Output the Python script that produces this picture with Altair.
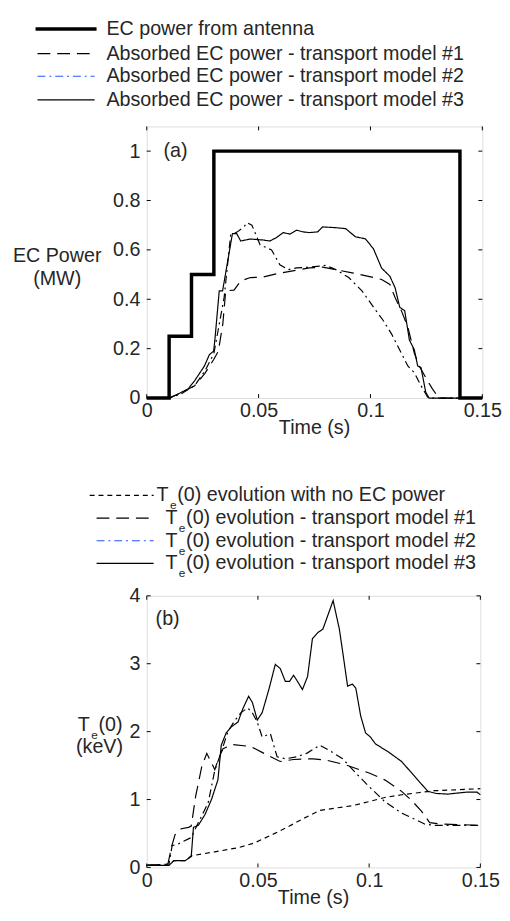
import altair as alt
import pandas as pd

# ---------------- data ----------------
time_ticks = [0, 0.05, 0.1, 0.15]
power_ticks = [0, 0.2, 0.4, 0.6, 0.8, 1.0]
temp_ticks = [0, 1, 2, 3, 4]

antenna_t = [0, 0.01, 0.02, 0.03, 0.14, 0.15]
antenna_p = [0, 0.25, 0.5, 1.0, 0, 0]

abs1_t = [0.0, 0.010, 0.015, 0.0214, 0.026, 0.030, 0.032, 0.034, 0.0353, 0.039, 0.042, 0.0463, 0.052, 0.058,
          0.064, 0.0727, 0.0786, 0.0845, 0.0918, 0.0991, 0.105, 0.1087, 0.111, 0.1138, 0.1167, 0.1196, 0.1218,
          0.1255, 0.1277, 0.1306, 0.15]
abs1_p = [0, 0, 0.02, 0.05, 0.1, 0.157, 0.19, 0.30, 0.434, 0.437, 0.474, 0.488, 0.49, 0.503, 0.513, 0.527,
          0.53, 0.52, 0.507, 0.493, 0.48, 0.46, 0.407, 0.354, 0.288, 0.182, 0.13, 0.07, 0.037, 0, 0]

abs2_t = [0.0, 0.010, 0.015, 0.0214, 0.026, 0.030, 0.0346, 0.0375, 0.0405, 0.0434, 0.0449, 0.047, 0.0507,
          0.0558, 0.0595, 0.0632, 0.067, 0.0727, 0.080, 0.0845, 0.0903, 0.0962, 0.102, 0.1057, 0.1094, 0.1138,
          0.1167, 0.1196, 0.1226, 0.1255, 0.127, 0.15]
abs2_p = [0, 0, 0.015, 0.05, 0.11, 0.18, 0.408, 0.66, 0.673, 0.693, 0.71, 0.70, 0.62, 0.60, 0.54, 0.52, 0.527,
          0.53, 0.537, 0.52, 0.488, 0.434, 0.36, 0.314, 0.26, 0.182, 0.13, 0.103, 0.05, 0.004, 0, 0]

abs3_t = [0.0, 0.010, 0.0126, 0.0185, 0.0214, 0.0258, 0.028, 0.0299, 0.0305, 0.0324, 0.0339, 0.0383, 0.0402,
          0.042, 0.0463, 0.052, 0.055, 0.058, 0.061, 0.064, 0.067, 0.0698, 0.0727, 0.0764, 0.0786, 0.0845,
          0.0889, 0.0933, 0.0977, 0.1013, 0.105, 0.1087, 0.111, 0.1131, 0.1153, 0.1174, 0.1196, 0.1211, 0.1226,
          0.1247, 0.1262, 0.15]
abs3_p = [0, 0, 0.01, 0.037, 0.07, 0.13, 0.176, 0.19, 0.24, 0.434, 0.434, 0.666, 0.666, 0.636, 0.644, 0.64,
          0.636, 0.65, 0.67, 0.664, 0.68, 0.673, 0.67, 0.673, 0.693, 0.69, 0.686, 0.653, 0.645, 0.605, 0.526,
          0.493, 0.447, 0.367, 0.354, 0.235, 0.196, 0.13, 0.123, 0.024, 0, 0]

noec_t = [0.0, 0.010, 0.0122, 0.0173, 0.020, 0.0306, 0.041, 0.0483, 0.0556, 0.063, 0.0704, 0.0778, 0.0851,
          0.0925, 0.100, 0.107, 0.1146, 0.122, 0.1293, 0.1367, 0.15]
noec_te = [0.03, 0.03, 0.10, 0.10, 0.17, 0.23, 0.29, 0.36, 0.47, 0.59, 0.72, 0.84, 0.875, 0.91, 0.97, 1.03,
           1.07, 1.10, 1.13, 1.14, 1.16]

te1_t = [0.0, 0.0095, 0.0113, 0.0127, 0.0155, 0.0188, 0.020, 0.022, 0.0247, 0.027, 0.0306, 0.032, 0.0343,
         0.0387, 0.0468, 0.0527, 0.060, 0.066, 0.0748, 0.0807, 0.0896, 0.100, 0.107, 0.1146, 0.119, 0.1235,
         0.1272, 0.1323, 0.15]
te1_v = [0.03, 0.05, 0.32, 0.48, 0.57, 0.59, 0.61, 1.05, 1.48, 1.68, 1.44, 1.58, 1.75, 1.81, 1.78, 1.68, 1.56,
         1.59, 1.60, 1.58, 1.51, 1.39, 1.29, 1.12, 0.99, 0.83, 0.66, 0.64, 0.62]

te2_t = [0.0, 0.010, 0.0114, 0.0144, 0.020, 0.0232, 0.0276, 0.0306, 0.0335, 0.0365, 0.0395, 0.0424, 0.0454,
         0.0476, 0.0497, 0.0519, 0.0556, 0.0586, 0.0623, 0.0674, 0.0719, 0.0778, 0.0822, 0.0881, 0.094, 0.100,
         0.107, 0.1146, 0.1205, 0.1249, 0.1293, 0.15]
te2_v = [0.03, 0.05, 0.32, 0.35, 0.44, 0.66, 0.95, 1.43, 1.70, 2.0, 2.16, 2.28, 2.35, 2.27, 2.14, 1.92, 1.97,
         1.63, 1.60, 1.63, 1.68, 1.80, 1.72, 1.60, 1.39, 1.19, 0.97, 0.80, 0.71, 0.64, 0.62, 0.62]

te3_t = [0.0, 0.010, 0.0122, 0.0173, 0.020, 0.021, 0.0232, 0.0262, 0.0291, 0.032, 0.0335, 0.0357, 0.038, 0.041,
         0.0431, 0.0458, 0.0475, 0.0497, 0.0519, 0.0549, 0.0578, 0.060, 0.0623, 0.0642, 0.066, 0.0674, 0.070,
         0.0723, 0.0745, 0.077, 0.0792, 0.0838, 0.0866, 0.0883, 0.0903, 0.0925, 0.094, 0.0962, 0.0984, 0.1006,
         0.1028, 0.1087, 0.1146, 0.1205, 0.1264, 0.1301, 0.1353, 0.1441, 0.1485, 0.15]
te3_v = [0.03, 0.03, 0.10, 0.10, 0.16, 0.59, 0.62, 0.78, 1.0, 1.29, 1.8, 1.98, 2.07, 2.14, 2.33, 2.52, 2.43,
         2.17, 2.28, 2.62, 2.99, 2.93, 2.74, 2.74, 2.83, 2.76, 2.62, 2.81, 3.37, 3.46, 3.51, 3.93, 3.51, 3.13,
         2.67, 2.70, 2.64, 2.23, 1.98, 1.92, 1.82, 1.70, 1.56, 1.34, 1.12, 1.09, 1.08, 1.11, 1.11, 1.07]

legend_a_series = ["antenna", "m1", "m2", "m3"]
legend_a_labels = ["EC power from antenna",
                   "Absorbed EC power - transport model #1",
                   "Absorbed EC power - transport model #2",
                   "Absorbed EC power - transport model #3"]
legend_b_series = ["noec", "m1", "m2", "m3"]
legend_b_labels = ["(0) evolution with no EC power",
                   "(0) evolution - transport model #1",
                   "(0) evolution - transport model #2",
                   "(0) evolution - transport model #3"]

# ---------------- style / layout ----------------
FONT = "Liberation Sans"
TXT = "#262626"
FS = 20
W_A, W_B, H = 341, 339, 276

dash_scale = alt.Scale(domain=["antenna", "m1", "m2", "m3", "noec"],
                       range=[[1, 0], [13, 7], [8, 4, 2, 4], [1, 0], [5, 4]])
legend_colors = {"antenna": "black", "m1": "black", "m2": "#2255ff", "m3": "black", "noec": "black"}
legend_widths = {"antenna": 3.5, "m1": 1.2, "m2": 1.2, "m3": 1.2, "noec": 1.2}

xs = alt.Scale(domain=[0, 0.15], nice=False, zero=False)


def axis(values, pad, fmt):
    return alt.Axis(values=values, format=fmt, ticks=False, domain=False, grid=False, labelFlush=False,
                    labelOverlap=False, labelPadding=pad, labelFontSize=FS, labelFont=FONT,
                    labelColor=TXT, title=None)


def long_df(series_list):
    rows = []
    for name, ts, vs in series_list:
        for t, v in zip(ts, vs):
            rows.append({"series": name, "t": t, "v": v})
    return pd.DataFrame(rows)


def tick_layers(xenc, yenc, xt, yt, W):
    dx = pd.DataFrame({"t": xt})
    dy = pd.DataFrame({"v": yt})
    k = 4
    return [
        alt.Chart(dx).mark_rule(color="black", strokeWidth=1).encode(x=xenc, y=alt.value(H), y2=alt.value(H - k)),
        alt.Chart(dx).mark_rule(color="black", strokeWidth=1).encode(x=xenc, y=alt.value(0), y2=alt.value(k)),
        alt.Chart(dy).mark_rule(color="black", strokeWidth=1).encode(y=yenc, x=alt.value(0), x2=alt.value(k)),
        alt.Chart(dy).mark_rule(color="black", strokeWidth=1).encode(y=yenc, x=alt.value(W), x2=alt.value(W - k)),
    ]


def legend_layers(series, labels, ys, x1s, x2s, txs, sub):
    df = pd.DataFrame({
        "series": series, "label": labels, "y": ys, "x1": x1s, "x2": x2s, "tx": txs,
        "col": [legend_colors[s] for s in series], "sw": [legend_widths[s] for s in series],
    })
    df["tT"] = df["tx"]
    df["te"] = df["tx"] + 13.5
    df["tr"] = df["tx"] + 21
    df["ye"] = df["y"] + 10
    out = [
        alt.Chart(df).mark_rule(strokeCap="butt").encode(
            x=alt.X("x1:Q", scale=None, axis=None), x2="x2:Q",
            y=alt.Y("y:Q", scale=None, axis=None),
            strokeDash=alt.StrokeDash("series:N", scale=dash_scale, legend=None),
            color=alt.Color("col:N", scale=None),
            strokeWidth=alt.StrokeWidth("sw:Q", scale=None)),
    ]
    if sub:
        out += [
            alt.Chart(df).mark_text(align="left", baseline="middle", font=FONT, fontSize=FS, color=TXT, text="T")
            .encode(x=alt.X("tT:Q", scale=None, axis=None), y=alt.Y("y:Q", scale=None, axis=None)),
            alt.Chart(df).mark_text(align="left", baseline="middle", font=FONT, fontSize=12, color=TXT, text="e")
            .encode(x=alt.X("te:Q", scale=None, axis=None), y=alt.Y("ye:Q", scale=None, axis=None)),
            alt.Chart(df).mark_text(align="left", baseline="middle", font=FONT, fontSize=FS, color=TXT)
            .encode(x=alt.X("tr:Q", scale=None, axis=None), y=alt.Y("y:Q", scale=None, axis=None),
                    text="label:N"),
        ]
    else:
        out.append(
            alt.Chart(df).mark_text(align="left", baseline="middle", font=FONT, fontSize=FS, color=TXT)
            .encode(x=alt.X("tx:Q", scale=None, axis=None), y=alt.Y("y:Q", scale=None, axis=None),
                    text="label:N"))
    return out


def txt(s, x, y, size=FS, align="center"):
    return alt.Chart(alt.Data(values=[{}])).mark_text(
        text=s, x=x, y=y, align=align, baseline="middle", font=FONT, fontSize=size, color=TXT)


# ---------------- panel (a) ----------------
ys_a = alt.Scale(domain=[0, 1.1], nice=False, zero=False)
xenc_a = alt.X("t:Q", scale=xs, axis=axis(time_ticks, 3, ".2~f"))
yenc_a = alt.Y("v:Q", scale=ys_a, axis=axis(power_ticks, 7, ".1~f"))

df_a = long_df([("m1", abs1_t, abs1_p), ("m2", abs2_t, abs2_p), ("m3", abs3_t, abs3_p)])
ant = pd.DataFrame({"t": antenna_t, "v": antenna_p})

layers_a = [
    alt.Chart(df_a).mark_line(strokeWidth=1.2, color="black").encode(
        x=xenc_a, y=yenc_a,
        strokeDash=alt.StrokeDash("series:N", scale=dash_scale, legend=None)),
    alt.Chart(ant).mark_line(strokeWidth=3.5, color="black", interpolate="step-after").encode(x=xenc_a, y=yenc_a),
]
layers_a += tick_layers(xenc_a, yenc_a, time_ticks, power_ticks, W_A)
layers_a += legend_layers(legend_a_series, legend_a_labels,
                          [-99, -74, -51, -27], [-113, -111, -111, -111], [-51, -53, -53, -53],
                          [-41, -41, -41, -41], False)
layers_a += [
    txt("(a)", 17, 25, align="left"),
    txt("EC Power", -91, 132),
    txt("(MW)", -91, 155),
    txt("Time (s)", W_A / 2, H + 31),
    alt.Chart(alt.Data(values=[{}])).mark_rule(color="white", strokeWidth=0.5).encode(
        x=alt.value(-140), x2=alt.value(-139), y=alt.value(-112), y2=alt.value(-111)),
]
chart_a = alt.layer(*layers_a).properties(width=W_A, height=H)

# ---------------- panel (b) ----------------
ys_b = alt.Scale(domain=[0, 4], nice=False, zero=False)
xenc_b = alt.X("t:Q", scale=xs, axis=axis(time_ticks, 3, ".2~f"))
yenc_b = alt.Y("v:Q", scale=ys_b, axis=axis(temp_ticks, 7, ".0f"))

df_b = long_df([("noec", noec_t, noec_te), ("m1", te1_t, te1_v), ("m2", te2_t, te2_v), ("m3", te3_t, te3_v)])

layers_b = [
    alt.Chart(df_b).mark_line(strokeWidth=1.2, color="black").encode(
        x=xenc_b, y=yenc_b,
        strokeDash=alt.StrokeDash("series:N", scale=dash_scale, legend=None)),
]
layers_b += tick_layers(xenc_b, yenc_b, time_ticks, temp_ticks, W_B)
layers_b += legend_layers(legend_b_series, legend_b_labels,
                          [-102, -79, -56, -33], [-58, -51, -51, -51], [7, 7, 7, 7],
                          [10, 19, 19, 19], True)
layers_b += [
    txt("(b)", 9, 24, align="left"),
    txt("T", -70, 131, align="left"),
    txt("e", -56.5, 141, size=12, align="left"),
    txt("(0)", -49, 131, align="left"),
    txt("(keV)", -48, 154),
    txt("Time (s)", W_B / 2, H + 31),
]
chart_b = alt.layer(*layers_b).properties(width=W_B, height=H)

chart = alt.vconcat(chart_a, chart_b, spacing=201, bounds="flush").properties(padding=0).configure_view(
    stroke="black", strokeWidth=1.5).configure(background="white")

chart.save("out.html", embed_options={"renderer": "svg", "actions": False})
